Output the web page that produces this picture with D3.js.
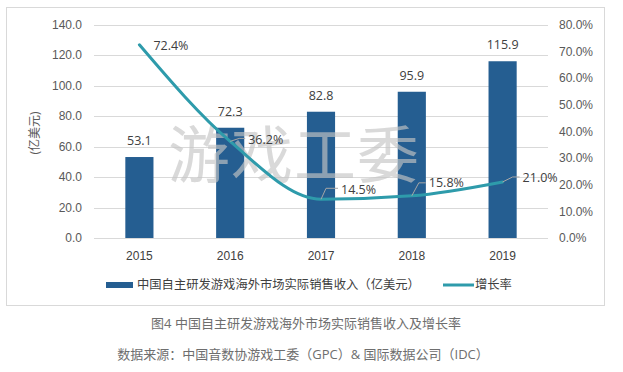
<!DOCTYPE html>
<html>
<head>
<meta charset="utf-8">
<script src="https://cdn.jsdelivr.net/npm/d3@7"></script>
<style>
  body { margin: 0; background: #fff; }
  svg { display: block; font-family: "Open Sans", "Noto Sans CJK SC", sans-serif; }
</style>
</head>
<body>
<svg id="chart" width="623" height="372"></svg>
<script>
// data
var years = ["2015", "2016", "2017", "2018", "2019"];
var revenue = [53.1, 72.3, 82.8, 95.9, 115.9];      // 亿美元
var growth = [72.4, 36.2, 14.5, 15.8, 21.0];         // %
var leftTicks = [0, 20, 40, 60, 80, 100, 120, 140];
var rightTicks = [0, 10, 20, 30, 40, 50, 60, 70, 80];
var barName = "中国自主研发游戏海外市场实际销售收入（亿美元）";
var lineName = "增长率";
var yTitle = "(亿美元)";
var caption = "图4 中国自主研发游戏海外市场实际销售收入及增长率";
var source = "数据来源：中国音数协游戏工委（GPC）& 国际数据公司（IDC）";

// label offsets for the growth labels (leader line elbow, then text)
var labelPos = [
  {lx: 0, ly: 0, tx: 14, ty: 1, leader: false},
  {lx: 9, ly: -3, tx: 18, ty: -2, leader: true},
  {lx: 5, ly: -11, tx: 20, ty: -10, leader: true},
  {lx: 7, ly: -13, tx: 17, ty: -13, leader: true},
  {lx: 10, ly: -5, tx: 20, ty: -4, leader: true}
];

var barColor = "#255e91",
    lineColor = "#2e9bab",
    gridColor = "#d9d9d9",
    tickColor = "#595959",
    labelColor = "#404040",
    noteColor = "#6e6e6e";

var svg = d3.select("#chart");

var plot = {left: 94, right: 548, top: 24.5, bottom: 238};

// outer frame
svg.append("rect")
    .attr("x", 6.5).attr("y", 7.5)
    .attr("width", 598).attr("height", 298)
    .attr("fill", "#fff")
    .attr("stroke", "#d9d9d9");

var x = d3.scaleBand()
    .domain(years)
    .range([plot.left, plot.right])
    .paddingInner(0.69)
    .paddingOuter(0.345);

var y = d3.scaleLinear().domain([0, 140]).range([plot.bottom, plot.top]);
var y2 = d3.scaleLinear().domain([0, 80]).range([plot.bottom, plot.top]);

// gridlines
svg.append("g")
  .selectAll("line")
  .data(leftTicks)
  .join("line")
    .attr("x1", plot.left).attr("x2", plot.right)
    .attr("y1", function(d) { return Math.round(y(d)) + 0.5; })
    .attr("y2", function(d) { return Math.round(y(d)) + 0.5; })
    .attr("stroke", gridColor)
    .attr("stroke-width", 1);

// left axis
var leftAxis = svg.append("g")
    .attr("transform", "translate(" + plot.left + ",0)")
    .call(d3.axisLeft(y).tickValues(leftTicks).tickSize(0).tickPadding(12)
      .tickFormat(function(d) { return d3.format(".1f")(d); }));
leftAxis.select(".domain").remove();
leftAxis.selectAll("text").attr("fill", tickColor).style("font-size", "12px");

// right axis
var rightAxis = svg.append("g")
    .attr("transform", "translate(" + plot.right + ",0)")
    .call(d3.axisRight(y2).tickValues(rightTicks).tickSize(0).tickPadding(11)
      .tickFormat(function(d) { return d3.format(".1f")(d) + "%"; }));
rightAxis.select(".domain").remove();
rightAxis.selectAll("text").attr("fill", tickColor).style("font-size", "12px");

// bottom axis
var bottomAxis = svg.append("g")
    .attr("transform", "translate(0," + plot.bottom + ")")
    .call(d3.axisBottom(x).tickSize(0).tickPadding(13));
bottomAxis.select(".domain").remove();
bottomAxis.selectAll("text").attr("fill", labelColor).style("font-size", "12px");

// y axis title
svg.append("text")
    .attr("transform", "translate(35,133) rotate(-90)")
    .attr("text-anchor", "middle")
    .attr("dy", "0.35em")
    .attr("fill", tickColor)
    .style("font-size", "12px")
    .text(yTitle);

// bars
svg.append("g")
  .selectAll("rect")
  .data(revenue)
  .join("rect")
    .attr("x", function(d, i) { return x(years[i]); })
    .attr("y", function(d) { return y(d); })
    .attr("width", x.bandwidth())
    .attr("height", function(d) { return y(0) - y(d); })
    .attr("fill", barColor);

// bar value labels
svg.append("g")
  .selectAll("text")
  .data(revenue)
  .join("text")
    .attr("x", function(d, i) { return x(years[i]) + x.bandwidth() / 2; })
    .attr("y", function(d) { return y(d) - 12; })
    .attr("text-anchor", "middle")
    .attr("fill", labelColor)
    .style("font-size", "12.5px")
    .text(function(d) { return d3.format(".1f")(d); });

// watermark
svg.append("text")
    .attr("x", 294).attr("y", 178)
    .attr("text-anchor", "middle")
    .attr("fill", "#c4c4c4")
    .attr("fill-opacity", 0.65)
    .style("font-size", "62px")
    .style("font-family", "Noto Sans CJK SC")
    .style("letter-spacing", "1px")
    .text("游戏工委");

// growth line
var pts = growth.map(function(d, i) {
  return [x(years[i]) + x.bandwidth() / 2, y2(d)];
});

svg.append("path")
    .datum(pts)
    .attr("fill", "none")
    .attr("stroke", lineColor)
    .attr("stroke-width", 3)
    .attr("stroke-linecap", "round")
    .attr("d", d3.line().curve(d3.curveMonotoneX));

// leader lines + growth labels
var lab = svg.append("g");
pts.forEach(function(p, i) {
  var o = labelPos[i];
  if (o.leader) {
    lab.append("path")
        .attr("fill", "none")
        .attr("stroke", "#a6a6a6")
        .attr("stroke-width", 1)
        .attr("d", "M" + p[0] + "," + p[1] +
                   "L" + (p[0] + o.lx) + "," + (p[1] + o.ly) +
                   "L" + (p[0] + o.tx - 3) + "," + (p[1] + o.ly));
  }
  lab.append("text")
      .attr("x", p[0] + o.tx)
      .attr("y", p[1] + o.ty)
      .attr("dy", "0.35em")
      .attr("fill", labelColor)
      .style("font-size", "12.5px")
      .text(d3.format(".1f")(growth[i]) + "%");
});

// legend
var legend = svg.append("g").attr("transform", "translate(0,285)");
legend.append("rect")
    .attr("x", 106).attr("y", -3)
    .attr("width", 27).attr("height", 6)
    .attr("fill", barColor);
legend.append("text")
    .attr("x", 137).attr("y", 0).attr("dy", "0.35em")
    .attr("fill", labelColor)
    .style("font-size", "12.3px")
    .text(barName);
legend.append("line")
    .attr("x1", 443).attr("x2", 474)
    .attr("y1", 0).attr("y2", 0)
    .attr("stroke", lineColor)
    .attr("stroke-width", 3);
legend.append("text")
    .attr("x", 475).attr("y", 0).attr("dy", "0.35em")
    .attr("fill", labelColor)
    .style("font-size", "12.3px")
    .text(lineName);

// caption and source under the frame
svg.append("text")
    .attr("x", 306).attr("y", 323).attr("dy", "0.35em")
    .attr("text-anchor", "middle")
    .attr("fill", noteColor)
    .style("font-size", "13px")
    .text(caption);

svg.append("text")
    .attr("x", 303).attr("y", 354).attr("dy", "0.35em")
    .attr("text-anchor", "middle")
    .attr("fill", noteColor)
    .style("font-size", "13px")
    .text(source);
</script>
</body>
</html>
